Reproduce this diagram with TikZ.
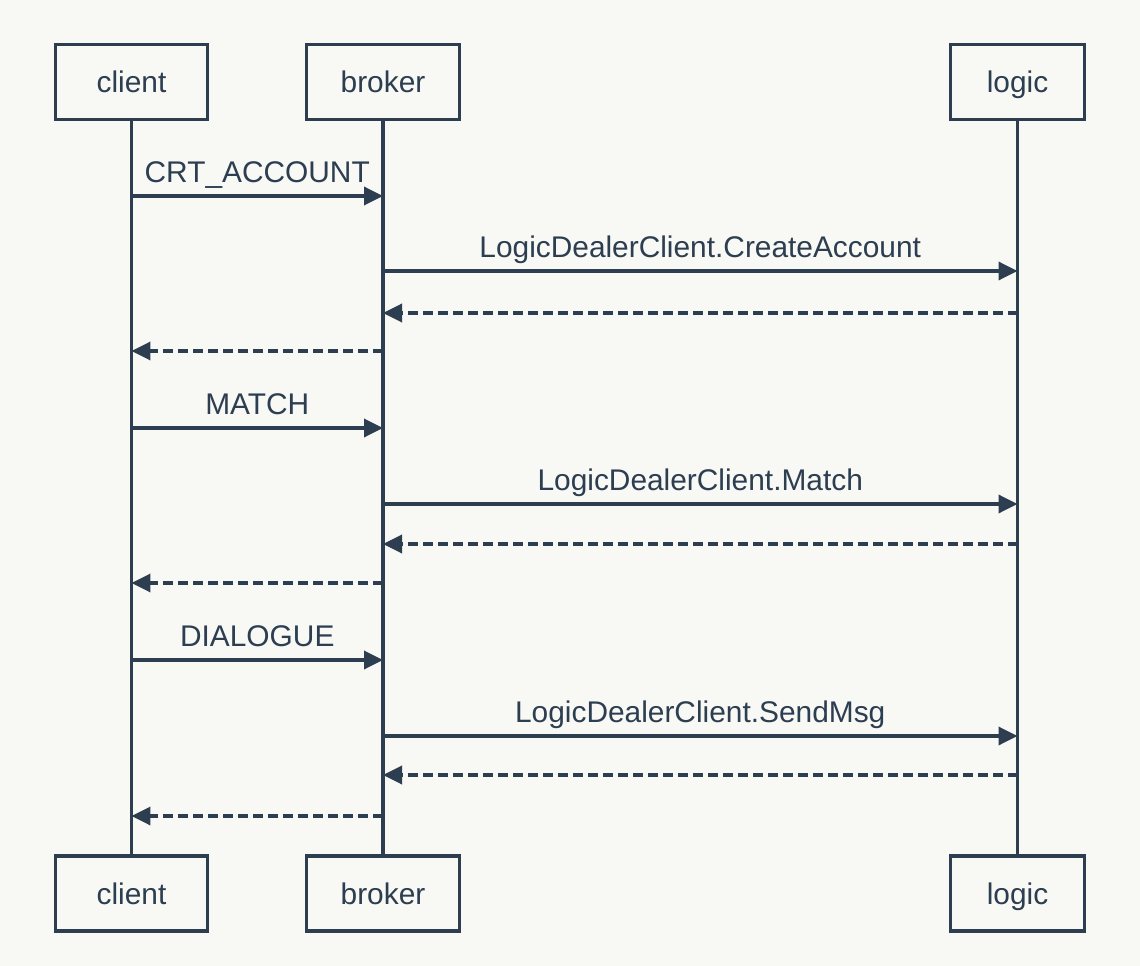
\documentclass[tikz,border=0pt]{standalone}
\usepackage{fontspec}
\setmainfont{Liberation Sans}
\usetikzlibrary{arrows.meta}

\definecolor{ink}{HTML}{2C3E50}
\definecolor{paper}{HTML}{F8F8F5}

\tikzset{
	actor/.style={draw=ink, line width=0.07cm, fill=paper, minimum height=1.5cm, text=ink, inner sep=0pt, text height=12.4pt, text depth=0pt},
	lifeline/.style={draw=ink, line width=0.07cm},
	call/.style={draw=ink, line width=0.07cm, -{Triangle[length=0.38cm,width=0.36cm]}},
	reply/.style={call, dash pattern=on 0.2cm off 0.1cm},
	msglabel/.style={anchor=base, yshift=0.28cm, text=ink, inner sep=0pt}
}

\begin{document}
\begin{tikzpicture}[x=0.02cm, y=-0.02cm, font=\fontsize{17}{20}\selectfont]
	\fill[paper] (0,0) rectangle (1140,966);

	\node[actor, minimum width=3.04cm] (clientTop) at (131.5,82) {client};
	\node[actor, minimum width=3.06cm] (brokerTop) at (383,82) {broker};
	\node[actor, minimum width=2.68cm] (logicTop) at (1017.5,82) {logic};
	\node[actor, minimum width=3.04cm] (clientBot) at (131.5,893.5) {client};
	\node[actor, minimum width=3.06cm] (brokerBot) at (383,893.5) {broker};
	\node[actor, minimum width=2.68cm] (logicBot) at (1017.5,893.5) {logic};

	\draw[lifeline] (clientTop.south) -- (clientBot.north);
	\draw[lifeline] (brokerTop.south) -- (brokerBot.north);
	\draw[lifeline] (logicTop.south) -- (logicBot.north);

	\foreach \r/\y in {1/196,2/271,3/313,4/351,5/428,6/504,7/544,8/583,9/660,10/736,11/775,12/816} {
		\coordinate (c\r) at (131.5,\y);
		\coordinate (b\r) at (383,\y);
		\coordinate (l\r) at (1017.5,\y);
	}

	\draw[call] (c1) -- node[msglabel] {CRT\_ACCOUNT} (b1);
	\draw[call] (b2) -- node[msglabel] {LogicDealerClient.CreateAccount} (l2);
	\draw[reply] (l3) -- (b3);
	\draw[reply] (b4) -- (c4);

	\draw[call] (c5) -- node[msglabel] {MATCH} (b5);
	\draw[call] (b6) -- node[msglabel] {LogicDealerClient.Match} (l6);
	\draw[reply] (l7) -- (b7);
	\draw[reply] (b8) -- (c8);

	\draw[call] (c9) -- node[msglabel] {DIALOGUE} (b9);
	\draw[call] (b10) -- node[msglabel] {LogicDealerClient.SendMsg} (l10);
	\draw[reply] (l11) -- (b11);
	\draw[reply] (b12) -- (c12);
\end{tikzpicture}
\end{document}
